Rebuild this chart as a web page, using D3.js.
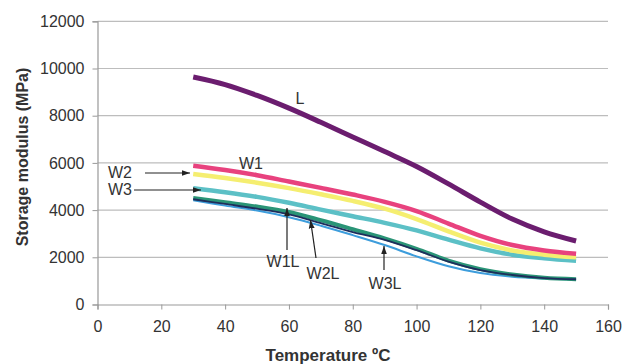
<!DOCTYPE html>
<html><head><meta charset="utf-8">
<script src="https://cdn.jsdelivr.net/npm/d3@7"></script>
<style>body{margin:0;background:#fff}svg{display:block}</style>
</head><body>
<svg id="c" width="636" height="364"></svg>
<script>
const temps = [30,40,50,60,70,80,90,100,110,120,130,140,150];
const L   = [9640,9320,8860,8320,7720,7100,6480,5850,5110,4340,3620,3080,2690];
const W1  = [5880,5700,5480,5210,4940,4660,4350,3960,3430,2910,2520,2290,2150];
const W2  = [5530,5360,5160,4930,4670,4390,4060,3620,3100,2620,2290,2110,2000];
const W3  = [4930,4760,4560,4310,4020,3740,3460,3140,2750,2380,2110,1960,1850];
const W1L = [4510,4330,4150,3920,3570,3190,2800,2360,1860,1500,1270,1130,1070];
const W2L = [4460,4260,4060,3820,3450,3070,2740,2300,1820,1460,1250,1120,1070];
const W3L = [4420,4190,3980,3700,3340,2940,2520,2040,1620,1330,1180,1100,1050];
const xTicks = [0,20,40,60,80,100,120,140,160];
const yTicks = [0,2000,4000,6000,8000,10000,12000];

const series = [
  {name:"W3", v:W3, color:"#5cc0c6", w:4.5},
  {name:"W2", v:W2, color:"#f5ee70", w:4.5},
  {name:"W1", v:W1, color:"#e8427e", w:4.5},
  {name:"L", v:L, color:"#6b1d6f", w:5},
  {name:"W3L", v:W3L, color:"#3d9ddc", w:2},
  {name:"W1L", v:W1L, color:"#2a9476", w:4},
  {name:"W2L", v:W2L, color:"#1e2d5c", w:1.8}
];

const svg = d3.select("#c");
const x = d3.scaleLinear().domain([0,160]).range([97.5,608]);
const y = d3.scaleLinear().domain([0,12000]).range([304.5,21.3]);
const font = "'Liberation Sans', Arial, sans-serif";

// gridlines
svg.append("g").selectAll("line").data(yTicks.filter(d=>d>0)).join("line")
  .attr("x1",x(0)).attr("x2",x(160)).attr("y1",d=>y(d)).attr("y2",d=>y(d))
  .attr("stroke","#bdbdbd").attr("stroke-width",1.2);

// y axis
const ya = svg.append("g").attr("transform",`translate(${x(0)},0)`)
  .call(d3.axisLeft(y).tickValues(yTicks).tickSize(5).tickPadding(8).tickFormat(d3.format("d")));
ya.select(".domain").attr("stroke","#999").attr("stroke-width",1.2);
ya.selectAll(".tick line").attr("stroke","#999");
ya.selectAll("text").attr("font-family",font).attr("font-size",16).attr("fill","#333");

// x axis
const xa = svg.append("g").attr("transform",`translate(0,${y(0)})`)
  .call(d3.axisBottom(x).tickValues(xTicks).tickSize(5).tickPadding(11).tickSizeOuter(5));
xa.select(".domain").attr("stroke","#999").attr("stroke-width",1.2);
xa.selectAll(".tick line").attr("stroke","#999");
xa.selectAll("text").attr("font-family",font).attr("font-size",16).attr("fill","#333");

// lines
const line = d3.line().x((d,i)=>x(temps[i])).y(d=>y(d)).curve(d3.curveCatmullRom.alpha(0.5));
svg.append("g").selectAll("path").data(series).join("path")
  .attr("d",d=>line(d.v)).attr("fill","none")
  .attr("stroke",d=>d.color).attr("stroke-width",d=>d.w).attr("stroke-linecap","butt");

// axis titles
svg.append("text").attr("x",328).attr("y",361).attr("text-anchor","middle")
  .attr("font-family",font).attr("font-size",17).attr("font-weight","bold").attr("fill","#333")
  .text("Temperature ºC");
svg.append("text").attr("transform","translate(28,157) rotate(-90)").attr("text-anchor","middle")
  .attr("font-family",font).attr("font-size",16).attr("font-weight","bold").attr("fill","#333")
  .text("Storage modulus (MPa)");

// arrow marker
svg.append("defs").append("marker").attr("id","ah").attr("viewBox","0 0 10 10")
  .attr("refX",10).attr("refY",5).attr("markerWidth",7).attr("markerHeight",7).attr("orient","auto")
  .append("path").attr("d","M0,1.5L10,5L0,8.5Z").attr("fill","#222");

const labels = [
  {t:"L", x:300, y:104},
  {t:"W1", x:251, y:169},
  {t:"W2", x:120, y:178},
  {t:"W3", x:120, y:195},
  {t:"W1L", x:283, y:267},
  {t:"W2L", x:323, y:279},
  {t:"W3L", x:385, y:289}
];
svg.append("g").selectAll("text").data(labels).join("text")
  .attr("x",d=>d.x).attr("y",d=>d.y).attr("text-anchor","middle")
  .attr("font-family",font).attr("font-size",16).attr("fill","#333").text(d=>d.t);

const arrows = [
  [145,173,190,173],
  [134,190,201,190],
  [287,250,287,208],
  [316,258,310.5,220],
  [384,270,384,246]
];
svg.append("g").selectAll("line").data(arrows).join("line")
  .attr("x1",d=>d[0]).attr("y1",d=>d[1]).attr("x2",d=>d[2]).attr("y2",d=>d[3])
  .attr("stroke","#222").attr("stroke-width",1.2).attr("marker-end","url(#ah)");
</script>
</body></html>
